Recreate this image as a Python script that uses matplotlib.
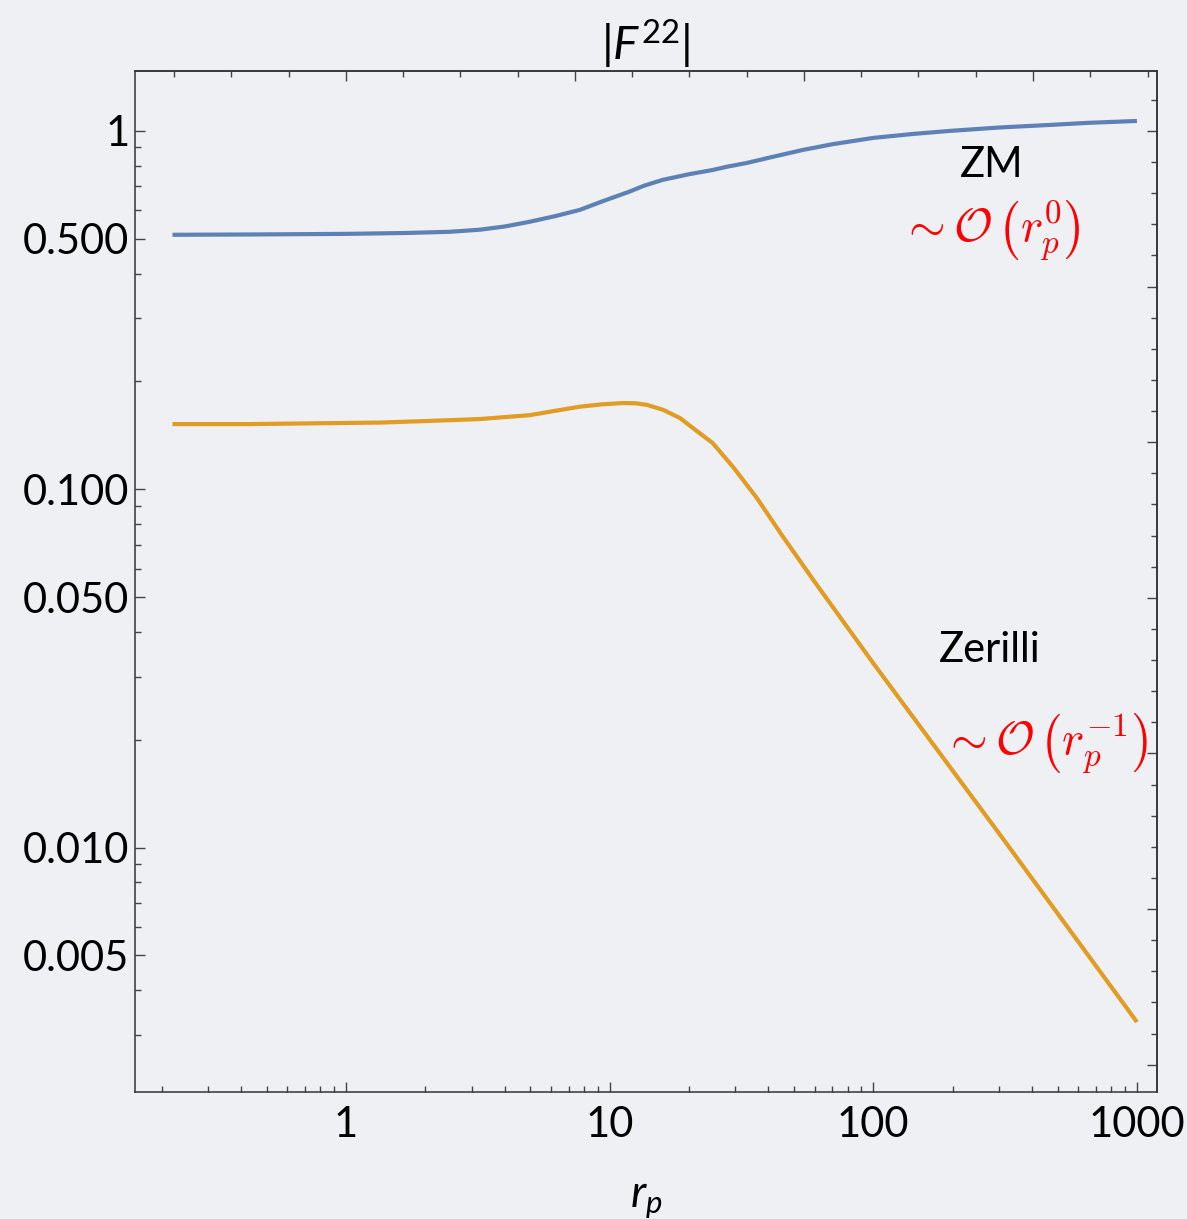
import matplotlib
matplotlib.use("Agg")
import matplotlib.pyplot as plt
import numpy as np
from matplotlib.ticker import FixedLocator, NullFormatter

# values (log-log)
zmX = [0.22, 0.43, 1.0, 1.7, 2.48, 3.22, 4.0, 4.99, 6.2, 7.71, 9.5, 11.9, 13.5, 15.9,
       20, 24.6, 28, 33.2, 42, 54.1, 70, 100, 140, 195, 300, 465, 650, 1000]
zmY = [0.513, 0.514, 0.516, 0.519, 0.523, 0.530, 0.541, 0.558, 0.578, 0.602, 0.638, 0.677,
       0.703, 0.730, 0.757, 0.778, 0.795, 0.814, 0.848, 0.885, 0.918, 0.956, 0.980,
       1.0, 1.022, 1.039, 1.053, 1.066]

zerX = [0.22, 0.43, 1.35, 2.0, 3.22, 4.99, 6.2, 7.71, 9.3, 11.23, 12.5, 13.86, 16, 18.5,
        21, 24.6, 29.5, 36.2, 45, 60, 100, 316, 1000]
zerY = [0.152, 0.152, 0.1535, 0.155, 0.157, 0.161, 0.1655, 0.170, 0.1725, 0.174, 0.1738,
        0.172, 0.1665, 0.158, 0.147, 0.1346, 0.115, 0.0945, 0.0745, 0.0551, 0.0327,
        0.0104, 0.00326]

xTicks = [1, 10, 100, 1000]
xTickLabels = ["1", "10", "100", "1000"]
yTicks = [0.005, 0.01, 0.05, 0.1, 0.5, 1]
yTickLabels = ["0.005", "0.010", "0.050", "0.100", "0.500", "1"]

bg = "#EEF0F4"
plt.rcParams["font.family"] = ["Lato", "DejaVu Sans"]
plt.rcParams["mathtext.fontset"] = "custom"
plt.rcParams["mathtext.rm"] = "Lato"
plt.rcParams["mathtext.it"] = "Lato:italic"

fig = plt.figure(figsize=(11.87, 12.19), dpi=100, facecolor=bg)
ax = fig.add_axes([0.1137, 0.1042, 0.861, 0.8376], facecolor=bg)

ax.plot(zmX, zmY, color="#5E81B5", lw=3.0, solid_capstyle="butt", solid_joinstyle="round")
ax.plot(zerX, zerY, color="#E19C24", lw=3.0, solid_capstyle="butt", solid_joinstyle="round")

ax.set_xscale("log")
ax.set_yscale("log")
ax.set_xlim(0.1585, 1191)
ax.set_ylim(0.00208, 1.47)

ax.xaxis.set_major_locator(FixedLocator(xTicks))
ax.set_xticklabels(xTickLabels)
ax.yaxis.set_major_locator(FixedLocator(yTicks))
ax.set_yticklabels(yTickLabels)
xMinor = [m * 10.0 ** e for e in range(-1, 4) for m in range(2, 10)]
yMinor = [m * 10.0 ** e for e in range(-3, 1) for m in range(2, 10) if m != 5]
ax.xaxis.set_minor_locator(FixedLocator(xMinor))
ax.yaxis.set_minor_locator(FixedLocator(yMinor))
ax.xaxis.set_minor_formatter(NullFormatter())
ax.yaxis.set_minor_formatter(NullFormatter())

ax.tick_params(which="both", direction="in", top=False, right=False,
               color="#444444", width=1.0)
ax.tick_params(which="major", length=7.5, labelsize=30)
ax.tick_params(axis="y", which="major", pad=4)
ax.tick_params(axis="x", which="major", pad=10)
ax.tick_params(which="minor", length=4)

# Mathematica-style frame ticks on top/right (natural-log spacing)
top = ax.secondary_xaxis("top")
top.xaxis.set_major_locator(FixedLocator(np.exp([0, 2, 4, 6])))
top.xaxis.set_minor_locator(FixedLocator(np.exp(np.arange(-1.5, 7.01, 0.5))))
top.xaxis.set_major_formatter(NullFormatter())
top.xaxis.set_minor_formatter(NullFormatter())
top.tick_params(which="both", direction="in", color="#444444", width=1.0)
top.tick_params(which="major", length=7.5)
top.tick_params(which="minor", length=4.5)

right = ax.secondary_yaxis("right")
right.yaxis.set_major_locator(FixedLocator(np.exp(np.arange(-6, 0.01, 1.0))))
right.yaxis.set_minor_locator(FixedLocator(np.exp(np.arange(-6.2, 0.41, 0.2))))
right.yaxis.set_major_formatter(NullFormatter())
right.yaxis.set_minor_formatter(NullFormatter())
right.tick_params(which="both", direction="in", color="#444444", width=1.0)
right.tick_params(which="major", length=7.5)
right.tick_params(which="minor", length=4.5)

for sp in list(ax.spines.values()) + [top.spines["top"], right.spines["right"]]:
    sp.set_color("#333333")
    sp.set_linewidth(1.1)

ax.set_title(r"$|F^{22}|$", fontsize=34, pad=4)
ax.set_xlabel(r"$r_p$", fontsize=32, labelpad=26)

ax.text(282, 0.804, "ZM", fontsize=30, ha="center", va="center")
ax.text(277, 0.523, r"$\sim\mathcal{O}\,\left(r_p^0\right)$", fontsize=34,
        color="red", ha="center", va="center", math_fontfamily="cm")
ax.text(277, 0.0357, "Zerilli", fontsize=30, ha="center", va="center")
ax.text(448, 0.0194, r"$\sim\mathcal{O}\,\left(r_p^{-1}\right)$", fontsize=34,
        color="red", ha="center", va="center", math_fontfamily="cm")

fig.savefig("out.png", dpi=100, facecolor=bg)
